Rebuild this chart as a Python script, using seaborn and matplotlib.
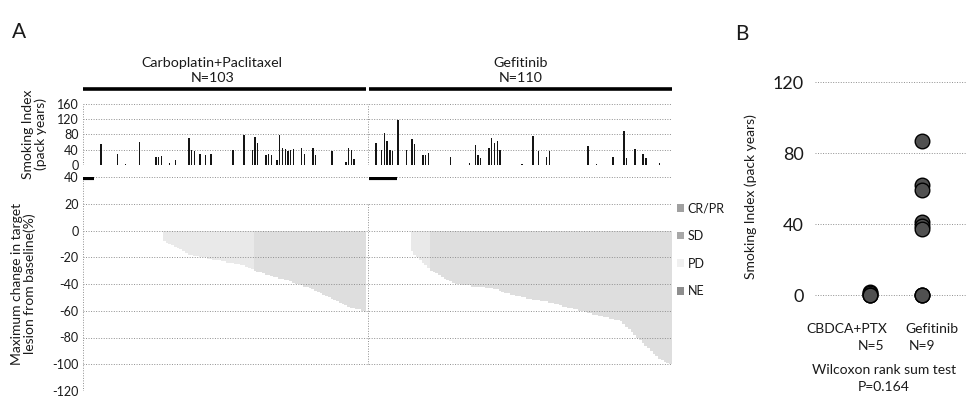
import numpy as np
import pandas as pd
import matplotlib
matplotlib.use("Agg")
import matplotlib.pyplot as plt
import seaborn as sns
from matplotlib.patches import Patch
from matplotlib.transforms import blended_transform_factory

sns.set_theme(style="white")
plt.rcParams['font.family'] = ['Lato', 'DejaVu Sans']

# ---------------- data ----------------
groups = ["Carboplatin+Paclitaxel", "Gefitinib"]
group_n = [103, 110]

smoke_cp = [0, 0, 0, 0, 0, 0, 55, 0, 0, 0,
            0, 0, 29, 0, 0, 3, 0, 0, 0, 0,
            61, 0, 0, 0, 0, 0, 22, 20, 24, 0,
            0, 5, 0, 13, 0, 0, 0, 0, 70, 40,
            36, 0, 28, 0, 26, 0, 28, 0, 0, 0,
            0, 0, 0, 0, 39, 0, 0, 0, 79, 0,
            0, 39, 74, 57, 0, 0, 27, 28, 27, 0,
            12, 79, 45, 42, 38, 40, 42, 0, 0, 45,
            28, 0, 0, 45, 25, 0, 0, 0, 0, 0,
            37, 0, 0, 0, 0, 8, 45, 40, 15, 0,
            0, 0, 0]

smoke_gef = [0, 0, 58, 0, 40, 85, 62, 40, 38, 0,
             119, 0, 0, 40, 0, 67, 54, 0, 0, 25,
             27, 31, 0, 0, 0, 0, 0, 0, 0, 22,
             0, 0, 0, 0, 0, 0, 4, 0, 52, 27,
             18, 0, 0, 45, 70, 58, 63, 40, 0, 0,
             0, 0, 0, 0, 0, 2, 0, 0, 0, 76,
             0, 36, 0, 0, 22, 38, 0, 0, 0, 0,
             0, 0, 0, 0, 0, 0, 0, 0, 0, 49,
             0, 0, 2, 0, 0, 0, 0, 0, 22, 0,
             0, 0, 90, 18, 0, 0, 42, 0, 0, 29,
             18, 0, 0, 0, 0, 4, 0, 0, 0, 0]

change_cp = [120, 85, 60, 45,
             38, 36, 35, 34, 33, 31, 30, 29, 28, 27,
             26, 26, 25, 24, 24, 23, 23, 22, 22, 21,
             21, 21, 21, 21, 21,
             -8, -9, -10, -11, -12, -13, -14, -15, -17, -18,
             -18, -19, -19, -20, -20, -20, -21, -21, -22, -22,
             -22, -23, -23, -24, -24, -24, -25, -25, -26, -26,
             -27, -28, -29, -30, -31, -31, -32, -33, -33, -34,
             -35, -35, -36, -36, -37, -37, -38, -39, -40, -40,
             -41, -42, -42, -43, -44, -45, -46, -47, -48, -49,
             -50, -51, -52, -53, -54, -55, -56, -57, -58, -58,
             -59, -59, -60, -61]

change_gef = [150, 110, 90, 75, 60, 55, 50, 47, 44, 42,
              35, 30, 27, 24, 21,
              -15, -18, -20, -22, -24, -26, -28, -30, -31, -32,
              -33, -35, -36, -37, -38, -39, -40, -40, -41, -41,
              -41, -41, -42, -42, -42, -42, -42, -43, -43, -43,
              -44, -44, -45, -46, -47, -47, -48, -48, -49, -49,
              -50, -50, -51, -51, -52, -52, -52, -53, -53, -53,
              -54, -54, -55, -55, -56, -57, -57, -58, -58, -59,
              -59, -60, -60, -61, -62, -62, -63, -63, -64, -64,
              -65, -65, -66, -66, -67, -67, -68, -70, -72, -74,
              -76, -78, -80, -82, -84, -86, -88, -90, -92, -94,
              -96, -97, -98, -99, -100]

resp_labels = ["CR/PR", "SD", "PD", "NE"]
resp_colors = ["#dedede", "#e9e9e9", "#ffffff", "#cfcfcf"]
legend_colors = ["#a0a0a0", "#a8a8a8", "#f0f0f0", "#8e8e8e"]

b_groups = ["CBDCA+PTX", "Gefitinib"]
b_ns = [5, 9]
b_cp = [2, 1, 0, 0, 0]
b_gef = [87, 62, 59, 41, 39, 37, 0, 0, 0]

smoke_ticks = [0, 40, 80, 120, 160]
change_ticks = [40, 20, 0, -20, -40, -60, -80, -100, -120]
b_ticks = [0, 40, 80, 120]
p_value = "P=0.164"

# ---------------- tables ----------------
pos_cp = np.arange(len(smoke_cp))
pos_gef = np.arange(len(smoke_gef)) + len(smoke_cp) + 1
pos = np.concatenate([pos_cp, pos_gef])
smoke = np.array(smoke_cp + smoke_gef, dtype=float)
change = np.array(change_cp + change_gef, dtype=float)


def recist(v):
    if v <= -30:
        return "CR/PR"
    if v > 20:
        return "PD"
    return "SD"


df = pd.DataFrame({"pos": pos, "smoke": smoke,
                   "change": np.clip(change, -120, 40),
                   "raw": change,
                   "resp": [recist(v) for v in change]})

df_b = pd.DataFrame({"group": [b_groups[0]] * len(b_cp) + [b_groups[1]] * len(b_gef),
                     "value": b_cp + b_gef})

# ---------------- figure ----------------
W, H = 966, 412
fig = plt.figure(figsize=(W / 100, H / 100), dpi=100)
fig.patch.set_facecolor("white")

ax_top = fig.add_axes([83 / W, 1 - 165 / H, 589 / W, 61 / H])
ax_bot = fig.add_axes([83 / W, 1 - 391 / H, 589 / W, 214 / H])
ax_b = fig.add_axes([815 / W, 0.258, 151 / W, 0.5685])

grid_kw = dict(color="#8f8f8f", lw=0.7, ls=(0, (1, 1.6)), zorder=3.5)
txt_col = "#1a1a1a"
xmax = pos.max() + 0.5
div = len(smoke_cp)

# ---- top: smoking index bars
sns.barplot(data=df, x="pos", y="smoke", native_scale=True, color="#151515",
            width=0.5, errorbar=None, ax=ax_top, zorder=4,
            linewidth=0, antialiased=False)
ax_top.set_xlim(-0.5, xmax)
ax_top.set_ylim(0, 160)
for t in smoke_ticks:
    ax_top.axhline(t, **grid_kw)
for xv in [-0.5, div, xmax]:
    ax_top.axvline(xv, **grid_kw)
ax_top.set_yticks(smoke_ticks)
ax_top.set_yticklabels([str(t) for t in smoke_ticks], fontsize=9, color=txt_col)
ax_top.set_xticks([])
ax_top.set_xlabel("")
ax_top.set_ylabel("Smoking Index\n(pack years)", fontsize=10, color=txt_col, linespacing=1.05)
ax_top.yaxis.set_label_coords(-0.061, 0.5)
ax_top.tick_params(axis="y", length=0, pad=3)
for s in ax_top.spines.values():
    s.set_visible(False)

# group headers
tr = blended_transform_factory(ax_top.transData, ax_top.transAxes)
spans = [(-0.5, div - 0.5), (div + 0.5, xmax)]
centers = [46.5, 158.5]
for (a, b), cx, g, n in zip(spans, centers, groups, group_n):
    ax_top.plot([a, b], [1.25, 1.25], transform=tr, color="black", lw=2.6,
                clip_on=False, solid_capstyle="butt")
    ax_top.text(cx, 1.68, g, transform=tr, ha="center", va="center",
                fontsize=10.3, color=txt_col)
    ax_top.text(cx, 1.42, f"N={n}", transform=tr, ha="center", va="center",
                fontsize=10.3, color=txt_col)

# ---- bottom: waterfall
sns.barplot(data=df, x="pos", y="change", hue="resp", native_scale=True,
            palette=dict(zip(resp_labels, resp_colors)), hue_order=resp_labels,
            dodge=False, width=1.0, errorbar=None, legend=False, ax=ax_bot,
            linewidth=0, zorder=3)
ax_bot.set_xlim(-0.5, xmax)
ax_bot.set_ylim(-120, 40)
over = df[df["raw"] > 40]
ax_bot.hlines([39.0] * len(over), over["pos"] - 0.5, over["pos"] + 0.5,
              color="black", lw=3, zorder=4)
for t in change_ticks[:-1]:
    ax_bot.axhline(t, **grid_kw)
ax_bot.axvline(-0.5, **grid_kw)
ax_bot.plot([div, div], [20, -100], **grid_kw)
ax_bot.plot([xmax, xmax], [20, -100], **grid_kw)
ax_bot.set_yticks(change_ticks)
ax_bot.set_yticklabels([str(t) for t in change_ticks], fontsize=9, color=txt_col)
ax_bot.set_xticks([])
ax_bot.set_xlabel("")
ax_bot.set_ylabel("Maximum change in target\nlesion from baseline(%)", fontsize=10,
                  color=txt_col, linespacing=1.05)
ax_bot.yaxis.set_label_coords(-0.080, 0.5)
ax_bot.tick_params(axis="y", length=0, pad=3)
for s in ax_bot.spines.values():
    s.set_visible(False)

handles = [Patch(facecolor=c, edgecolor="none") for c in legend_colors]
leg = ax_bot.legend(handles, resp_labels, loc="upper left", bbox_to_anchor=(1.0, 0.905),
                    frameon=False, fontsize=9, handlelength=0.55, handleheight=0.55,
                    handletextpad=0.3, labelspacing=1.25, borderaxespad=0)
for t in leg.get_texts():
    t.set_color(txt_col)

# ---- panel B
sns.stripplot(data=df_b, x="group", y="value", order=b_groups, jitter=False,
              size=10.5, color="#505050", edgecolor="black", linewidth=1,
              ax=ax_b, zorder=4)
ax_b.set_xlim(-1.06, 1.85)
ax_b.set_ylim(-6, 126)
for t in b_ticks:
    ax_b.axhline(t, **grid_kw)
ax_b.set_yticks(b_ticks)
ax_b.set_yticklabels([str(t) for t in b_ticks], fontsize=13, color=txt_col)
ax_b.set_xticks([])
ax_b.set_xlabel("")
ax_b.set_ylabel("Smoking Index (pack years)", fontsize=10, color=txt_col)
ax_b.yaxis.set_label_coords(-0.384, 0.464)
ax_b.tick_params(axis="y", length=0, pad=8)
for s in ax_b.spines.values():
    s.set_visible(False)

fig.text(847 / W, 1 - 329 / H, b_groups[0], ha="center", va="center", fontsize=10, color=txt_col)
fig.text(871 / W, 1 - 346 / H, f"N={b_ns[0]}", ha="center", va="center", fontsize=10, color=txt_col)
fig.text(932 / W, 1 - 329 / H, b_groups[1], ha="center", va="center", fontsize=10, color=txt_col)
fig.text(922 / W, 1 - 346 / H, f"N={b_ns[1]}", ha="center", va="center", fontsize=10, color=txt_col)
fig.text(884 / W, 1 - 370 / H, "Wilcoxon rank sum test", ha="center", va="center",
         fontsize=10, color=txt_col)
fig.text(884 / W, 1 - 387 / H, p_value, ha="center", va="center", fontsize=10, color=txt_col)

fig.text(12 / W, 1 - 38 / H, "A", fontsize=15, color=txt_col)
fig.text(735 / W, 1 - 40 / H, "B", fontsize=15, color=txt_col)

fig.savefig("out.png", dpi=100, facecolor="white")
